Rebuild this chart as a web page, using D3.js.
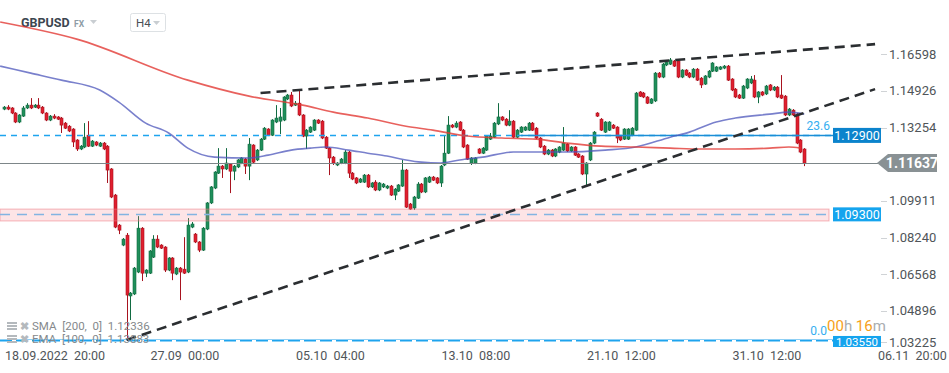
<!DOCTYPE html>
<html>
<head>
<meta charset="utf-8">
<script src="https://cdn.jsdelivr.net/npm/d3@7"></script>
<style>
  body { margin: 0; background: #fff; overflow: hidden; }
  text { font-family: Roboto, 'Open Sans', sans-serif; }
</style>
</head>
<body>
<div id="chart"></div>
<script>
// GBPUSD H4 candles, [open, high, low, close]
const candles = [
  [1.1410,1.1424,1.1405,1.1419],[1.1419,1.1428,1.1405,1.1410],[1.1415,1.1419,1.1387,1.1392],[1.1392,1.1396,1.1346,1.1351],
  [1.1351,1.1387,1.1346,1.1383],[1.1378,1.1424,1.1374,1.1415],[1.1415,1.1437,1.1410,1.1428],[1.1428,1.1460,1.1410,1.1415],
  [1.1419,1.1433,1.1415,1.1428],[1.1428,1.1460,1.1410,1.1415],[1.1419,1.1424,1.1387,1.1392],[1.1392,1.1396,1.1355,1.1360],
  [1.1360,1.1383,1.1355,1.1378],[1.1378,1.1387,1.1364,1.1369],[1.1374,1.1378,1.1360,1.1364],[1.1369,1.1374,1.1301,1.1337],
  [1.1346,1.1351,1.1319,1.1323],[1.1332,1.1337,1.1305,1.1310],[1.1319,1.1323,1.1237,1.1260],[1.1269,1.1273,1.1219,1.1228],
  [1.1228,1.1246,1.1223,1.1241],[1.1237,1.1346,1.1232,1.1282],[1.1291,1.1355,1.1237,1.1241],[1.1241,1.1269,1.1237,1.1264],
  [1.1260,1.1264,1.1241,1.1246],[1.1241,1.1260,1.1237,1.1255],[1.1255,1.1260,1.1223,1.1228],[1.1241,1.1246,1.1073,1.1132],
  [1.1137,1.1141,1.1004,1.1009],[1.1018,1.1023,1.0867,1.0872],[1.0881,1.0886,1.0840,1.0858],[1.0790,1.0822,1.0785,1.0817],
  [1.0835,1.0845,1.0357,1.0562],[1.0558,1.0576,1.0448,1.0571],[1.0567,1.0690,1.0562,1.0685],[1.0667,1.0922,1.0662,1.0867],
  [1.0867,1.0872,1.0626,1.0662],[1.0662,1.0680,1.0644,1.0676],[1.0662,1.0767,1.0658,1.0763],[1.0735,1.0835,1.0731,1.0817],
  [1.0817,1.0835,1.0776,1.0781],[1.0790,1.0794,1.0772,1.0776],[1.0781,1.0785,1.0667,1.0676],[1.0676,1.0735,1.0671,1.0731],
  [1.0731,1.0735,1.0630,1.0662],[1.0658,1.0690,1.0653,1.0685],[1.0685,1.0690,1.0539,1.0667],[1.0680,1.0826,1.0658,1.0662],
  [1.0667,1.0913,1.0662,1.0881],[1.0872,1.0895,1.0867,1.0886],[1.0840,1.0845,1.0799,1.0804],[1.0804,1.0808,1.0758,1.0767],
  [1.0767,1.0872,1.0763,1.0867],[1.0863,1.0986,1.0858,1.0982],[1.0982,1.1059,1.0977,1.1055],[1.1050,1.1127,1.1045,1.1123],
  [1.1118,1.1232,1.1114,1.1150],[1.1150,1.1155,1.1096,1.1137],[1.1137,1.1232,1.1132,1.1164],[1.1159,1.1164,1.1027,1.1127],
  [1.1127,1.1155,1.1086,1.1150],[1.1146,1.1182,1.1141,1.1178],[1.1164,1.1191,1.1159,1.1187],[1.1182,1.1187,1.1114,1.1150],
  [1.1150,1.1278,1.1086,1.1250],[1.1246,1.1250,1.1164,1.1168],[1.1178,1.1228,1.1173,1.1223],[1.1223,1.1278,1.1219,1.1273],
  [1.1273,1.1328,1.1269,1.1323],[1.1319,1.1323,1.1287,1.1291],[1.1291,1.1364,1.1287,1.1360],[1.1351,1.1428,1.1346,1.1369],
  [1.1355,1.1415,1.1296,1.1374],[1.1360,1.1469,1.1355,1.1465],[1.1456,1.1479,1.1451,1.1474],[1.1474,1.1488,1.1419,1.1424],
  [1.1428,1.1447,1.1424,1.1437],[1.1437,1.1497,1.1378,1.1383],[1.1383,1.1387,1.1282,1.1287],[1.1287,1.1319,1.1228,1.1314],
  [1.1305,1.1332,1.1301,1.1328],[1.1314,1.1364,1.1310,1.1360],[1.1360,1.1364,1.1342,1.1346],[1.1355,1.1360,1.1273,1.1278],
  [1.1282,1.1287,1.1228,1.1232],[1.1232,1.1237,1.1109,1.1187],[1.1191,1.1196,1.1155,1.1164],[1.1155,1.1168,1.1150,1.1164],
  [1.1164,1.1187,1.1159,1.1182],[1.1164,1.1223,1.1159,1.1214],[1.1214,1.1219,1.1096,1.1118],[1.1118,1.1123,1.1086,1.1091],
  [1.1096,1.1100,1.1068,1.1073],[1.1077,1.1096,1.1073,1.1091],[1.1077,1.1114,1.1073,1.1109],[1.1109,1.1114,1.1050,1.1055],
  [1.1055,1.1077,1.1050,1.1073],[1.1077,1.1086,1.1036,1.1041],[1.1041,1.1077,1.1036,1.1073],[1.1055,1.1073,1.1050,1.1068],
  [1.1050,1.1064,1.1045,1.1059],[1.1059,1.1064,1.1014,1.1018],[1.1018,1.1050,1.0995,1.1045],[1.1036,1.1068,1.1032,1.1064],
  [1.1059,1.1178,1.1055,1.1132],[1.1132,1.1137,1.0959,1.0963],[1.0977,1.0982,1.0950,1.0954],[1.0959,1.1014,1.0950,1.1009],
  [1.1004,1.1077,1.1000,1.1068],[1.1068,1.1073,1.1027,1.1032],[1.1032,1.1100,1.1027,1.1096],[1.1077,1.1105,1.1073,1.1100],
  [1.1100,1.1105,1.1082,1.1086],[1.1096,1.1100,1.1068,1.1073],[1.1073,1.1155,1.1055,1.1150],[1.1155,1.1287,1.1150,1.1209],
  [1.1209,1.1378,1.1205,1.1337],[1.1337,1.1342,1.1323,1.1328],[1.1328,1.1355,1.1323,1.1346],[1.1351,1.1355,1.1310,1.1314],
  [1.1314,1.1319,1.1232,1.1237],[1.1246,1.1250,1.1178,1.1182],[1.1164,1.1191,1.1155,1.1187],[1.1164,1.1191,1.1159,1.1187],
  [1.1228,1.1232,1.1205,1.1209],[1.1209,1.1237,1.1205,1.1232],[1.1223,1.1291,1.1219,1.1287],[1.1273,1.1301,1.1269,1.1287],
  [1.1282,1.1351,1.1278,1.1346],[1.1342,1.1437,1.1337,1.1374],[1.1374,1.1378,1.1355,1.1360],[1.1364,1.1369,1.1332,1.1337],
  [1.1337,1.1405,1.1332,1.1355],[1.1355,1.1360,1.1278,1.1282],[1.1282,1.1319,1.1278,1.1314],[1.1305,1.1332,1.1301,1.1328],
  [1.1314,1.1332,1.1310,1.1328],[1.1314,1.1351,1.1310,1.1346],[1.1346,1.1351,1.1310,1.1314],[1.1323,1.1328,1.1273,1.1278],
  [1.1278,1.1282,1.1232,1.1237],[1.1241,1.1246,1.1200,1.1205],[1.1205,1.1228,1.1200,1.1223],[1.1223,1.1228,1.1191,1.1196],
  [1.1196,1.1232,1.1191,1.1228],[1.1214,1.1241,1.1209,1.1237],[1.1223,1.1328,1.1219,1.1255],[1.1250,1.1255,1.1214,1.1219],
  [1.1219,1.1241,1.1214,1.1237],[1.1237,1.1241,1.1196,1.1200],[1.1205,1.1209,1.1187,1.1191],[1.1196,1.1200,1.1109,1.1114],
  [1.1114,1.1168,1.1059,1.1164],[1.1178,1.1260,1.1173,1.1255],[1.1255,1.1310,1.1250,1.1305],[1.1392,1.1396,1.1374,1.1378],
  [1.1364,1.1369,1.1310,1.1314],[1.1305,1.1355,1.1301,1.1351],[1.1314,1.1355,1.1310,1.1351],[1.1337,1.1342,1.1319,1.1323],
  [1.1328,1.1332,1.1255,1.1278],[1.1287,1.1291,1.1264,1.1269],[1.1273,1.1323,1.1269,1.1319],[1.1273,1.1323,1.1269,1.1319],
  [1.1291,1.1328,1.1287,1.1323],[1.1314,1.1488,1.1310,1.1483],[1.1488,1.1492,1.1465,1.1469],[1.1483,1.1488,1.1460,1.1465],
  [1.1465,1.1469,1.1433,1.1437],[1.1437,1.1460,1.1433,1.1456],[1.1447,1.1579,1.1442,1.1574],[1.1574,1.1579,1.1551,1.1556],
  [1.1556,1.1620,1.1551,1.1615],[1.1611,1.1629,1.1606,1.1624],[1.1615,1.1643,1.1611,1.1634],[1.1629,1.1634,1.1602,1.1606],
  [1.1629,1.1634,1.1551,1.1556],[1.1556,1.1592,1.1551,1.1588],[1.1588,1.1592,1.1561,1.1565],[1.1574,1.1579,1.1551,1.1556],
  [1.1556,1.1597,1.1551,1.1592],[1.1592,1.1597,1.1538,1.1542],[1.1551,1.1556,1.1506,1.1520],[1.1524,1.1565,1.1520,1.1561],
  [1.1556,1.1588,1.1551,1.1583],[1.1583,1.1624,1.1579,1.1620],[1.1583,1.1606,1.1579,1.1602],[1.1592,1.1606,1.1588,1.1602],
  [1.1597,1.1611,1.1592,1.1606],[1.1606,1.1611,1.1538,1.1542],[1.1547,1.1551,1.1492,1.1497],[1.1501,1.1506,1.1460,1.1465],
  [1.1474,1.1479,1.1456,1.1460],[1.1460,1.1520,1.1456,1.1515],[1.1506,1.1551,1.1501,1.1547],[1.1529,1.1561,1.1524,1.1547],
  [1.1542,1.1565,1.1460,1.1465],[1.1465,1.1492,1.1437,1.1488],[1.1488,1.1492,1.1469,1.1474],[1.1479,1.1520,1.1474,1.1515],
  [1.1520,1.1524,1.1492,1.1497],[1.1497,1.1515,1.1492,1.1510],[1.1510,1.1515,1.1460,1.1465],[1.1474,1.1565,1.1456,1.1460],
  [1.1469,1.1474,1.1378,1.1383],[1.1383,1.1415,1.1378,1.1410],[1.1405,1.1410,1.1378,1.1383],[1.1387,1.1392,1.1250,1.1255],
  [1.1269,1.1273,1.1209,1.1214],[1.1228,1.1232,1.1150,1.11637]
]

// moving averages read at some candle positions, [candle index, price]
const sma200 = [
  [-1, 1.1807], [19, 1.1729], [48, 1.1542], [64, 1.1469], [78, 1.1428], [86, 1.1396], [95, 1.1369],
  [105, 1.1332], [112, 1.1314], [121, 1.1287], [130, 1.1278], [139, 1.1273], [147, 1.1255], [156, 1.1241],
  [165, 1.1237], [174, 1.1232], [182, 1.1228], [191, 1.1228], [200, 1.1232], [205, 1.1237], [208, 1.1232]
]
const ema100 = [
  [-1, 1.1606], [7, 1.1574], [15, 1.1542], [25, 1.1497], [30, 1.1442], [37, 1.1346], [43, 1.1301],
  [48, 1.1232], [55, 1.1191], [64, 1.1187], [69, 1.1200], [75, 1.1223], [80, 1.1232], [84, 1.1237],
  [90, 1.1223], [95, 1.1209], [100, 1.1196], [105, 1.1178], [109, 1.1168], [114, 1.1164], [119, 1.1178],
  [125, 1.1191], [133, 1.1214], [140, 1.1214], [147, 1.1214], [157, 1.1223], [165, 1.1237], [174, 1.1282],
  [179, 1.1305], [186, 1.1351], [191, 1.1369], [200, 1.1387], [205, 1.1396], [209, 1.1387]
]

// drawn trend lines, [candle index, price]
const trendUpper = [[67, 1.1483], [227.5, 1.1706]]
const trendLower = [[32, 1.0357], [227.5, 1.1501]]

const yTicks = [1.16598, 1.14926, 1.13254, 1.09911, 1.08240, 1.06568, 1.04896, 1.03225]
const xTickIdx = [0, 38, 76, 114, 152, 190, 228]
const xTickLabels = ['18.09.2022  20:00', '27.09  00:00', '05.10  04:00', '13.10  08:00', '21.10  12:00', '31.10  12:00', '06.11  20:00']

const lastPrice = 1.11637
const alertLevels = [1.12900, 1.09300, 1.03550]
const zoneBand = [1.0954, 1.0900]
const fibLevels = [['23.6', 1.12900], ['0.0', 1.03550]]

const width = 949
const height = 373
const plotRight = 833

const svg = d3
  .select('#chart')
  .append('svg')
  .attr('width', width)
  .attr('height', height)

const x = d3.scaleLinear().domain([0, 228]).range([4, 877])
const y = d3.scaleLinear().domain([1.03225, 1.16598]).range([347.6, 54.3])

const green = '#1f8f5b'
const greenDark = '#126b42'
const red = '#e01f2e'
const redDark = '#a8131f'

// header
const head = svg.append('g')
head.append('text').attr('x', 21).attr('y', 27)
  .attr('font-size', 12.5).attr('font-weight', 700).attr('fill', '#3c4650').text('GBPUSD')
head.append('text').attr('x', 74).attr('y', 27)
  .attr('font-size', 8.5).attr('font-weight', 700).attr('fill', '#8e9ca6').text('FX')
head.append('path').attr('d', 'M90,20 L97,20 L93.5,24 Z').attr('fill', '#c9ced2')
head.append('rect').attr('x', 130.5).attr('y', 13.5).attr('width', 35).attr('height', 18).attr('rx', 2)
  .attr('fill', '#fff').attr('stroke', '#dde1e4')
head.append('text').attr('x', 136).attr('y', 27)
  .attr('font-size', 11.5).attr('fill', '#4a4f55').text('H4')
head.append('path').attr('d', 'M153,21 L160,21 L156.5,25 Z').attr('fill', '#c9ced2')

// candles
const bars = svg.append('g').selectAll('g')
  .data(candles)
  .enter()
  .append('g')

bars.append('line')
  .attr('x1', (d, i) => Math.round(x(i)) + 0.5)
  .attr('x2', (d, i) => Math.round(x(i)) + 0.5)
  .attr('y1', d => y(d[1]))
  .attr('y2', d => y(d[2]))
  .attr('stroke', d => d[3] >= d[0] ? greenDark : redDark)
  .attr('stroke-width', 1)

bars.append('rect')
  .attr('x', (d, i) => Math.round(x(i)) - 1)
  .attr('y', d => y(Math.max(d[0], d[3])))
  .attr('width', 3)
  .attr('height', d => Math.max(1, Math.abs(y(d[0]) - y(d[3]))))
  .attr('fill', d => d[3] >= d[0] ? green : red)
  .attr('stroke', d => d[3] >= d[0] ? greenDark : redDark)
  .attr('stroke-width', 0.6)

// support zone
svg.append('rect')
  .attr('x', 0).attr('width', 829)
  .attr('y', y(zoneBand[0])).attr('height', y(zoneBand[1]) - y(zoneBand[0]))
  .attr('fill', 'rgba(244,130,140,0.22)')
  .attr('stroke', 'rgba(236,120,130,0.55)')

// alert levels
const levelColor = ['#1ea4ee', '#82b4e2', '#1ea4ee']
const levelDash = ['6,5', '10,7', '12,4']
alertLevels.forEach(function (v, i) {
  svg.append('line')
    .attr('x1', 0).attr('x2', plotRight)
    .attr('y1', Math.round(y(v)) + 0.5).attr('y2', Math.round(y(v)) + 0.5)
    .attr('stroke', levelColor[i])
    .attr('stroke-width', i === 2 ? 2 : 1.3)
    .attr('stroke-dasharray', levelDash[i])
})

// fibonacci levels (solid part)
svg.append('line')
  .attr('x1', x(135)).attr('x2', plotRight)
  .attr('y1', Math.round(y(fibLevels[0][1])) + 0.5).attr('y2', Math.round(y(fibLevels[0][1])) + 0.5)
  .attr('stroke', '#1b8ed6').attr('stroke-width', 1.3)
svg.append('line')
  .attr('x1', 0).attr('x2', plotRight)
  .attr('y1', Math.round(y(fibLevels[1][1])) - 0.5).attr('y2', Math.round(y(fibLevels[1][1])) - 0.5)
  .attr('stroke', '#8fd0f5').attr('stroke-width', 1)

svg.selectAll('.fib')
  .data(fibLevels)
  .enter()
  .append('text')
  .attr('class', 'fib')
  .attr('x', (d, i) => i === 0 ? 830 : 827)
  .attr('y', d => y(d[1]) - 5)
  .attr('text-anchor', 'end')
  .attr('font-size', 12)
  .attr('fill', '#34aef0')
  .text(d => d[0])

// moving averages
const maLine = d3.line()
  .x(d => x(d[0]))
  .y(d => y(d[1]))
  .curve(d3.curveMonotoneX)

svg.append('path')
  .datum(ema100)
  .attr('d', maLine)
  .attr('fill', 'none')
  .attr('stroke', '#4c55bb')
  .attr('stroke-opacity', 0.75)
  .attr('stroke-width', 1.6)

svg.append('path')
  .datum(sma200)
  .attr('d', maLine)
  .attr('fill', 'none')
  .attr('stroke', '#e23a35')
  .attr('stroke-opacity', 0.8)
  .attr('stroke-width', 1.6)

// current price line
svg.append('line')
  .attr('x1', 0).attr('x2', 878)
  .attr('y1', Math.round(y(lastPrice)) + 0.5).attr('y2', Math.round(y(lastPrice)) + 0.5)
  .attr('stroke', '#7d8689').attr('stroke-width', 1.2)

// trend lines
const trendLine = d3.line().x(d => x(d[0])).y(d => y(d[1]))
;[trendUpper, trendLower].forEach(function (t) {
  svg.append('path')
    .datum(t)
    .attr('d', trendLine)
    .attr('fill', 'none')
    .attr('stroke', '#2b2e31')
    .attr('stroke-width', 2.6)
    .attr('stroke-dasharray', '10,6')
})

// right axis
const yAxis = svg.append('g')
yAxis.selectAll('line')
  .data(yTicks)
  .enter()
  .append('line')
  .attr('x1', 881).attr('x2', 887)
  .attr('y1', d => Math.min(Math.round(y(d)), 342) + 0.5)
  .attr('y2', d => Math.min(Math.round(y(d)), 342) + 0.5)
  .attr('stroke', '#d0d3d6')
yAxis.selectAll('text')
  .data(yTicks)
  .enter()
  .append('text')
  .attr('x', 889)
  .attr('y', d => Math.min(y(d), 342) + 4.5)
  .attr('font-size', 13)
  .attr('fill', '#505559')
  .text(d => d.toFixed(5))

// level tags
const tagColor = ['#0b83cc', '#15a4ee', '#15a4ee']
const tagBox = [[-7.5, 15], [-7, 14], [-4.5, 11]]
alertLevels.forEach(function (v, i) {
  const cy = y(v)
  svg.append('rect')
    .attr('x', 833).attr('y', cy + tagBox[i][0]).attr('width', 48).attr('height', tagBox[i][1])
    .attr('fill', tagColor[i])
  svg.append('text')
    .attr('x', 857).attr('y', cy + tagBox[i][0] + tagBox[i][1] / 2 + 4.2)
    .attr('text-anchor', 'middle')
    .attr('font-size', i === 2 ? 11.5 : 12.5)
    .attr('fill', '#fff')
    .text(v.toFixed(5))
})

// last price tag
const ly = y(lastPrice)
svg.append('path')
  .attr('d', `M877,${ly} L888,${ly - 9} L937,${ly - 9} L937,${ly + 9} L888,${ly + 9} Z`)
  .attr('fill', '#899194')
svg.append('text')
  .attr('x', 912).attr('y', ly + 5)
  .attr('text-anchor', 'middle')
  .attr('font-size', 14)
  .attr('font-weight', 700)
  .attr('fill', '#fff')
  .text(lastPrice.toFixed(5))

// countdown
const cd = svg.append('text').attr('x', 827).attr('y', 331).attr('font-size', 15)
cd.append('tspan').attr('fill', '#f6a019').text('00')
cd.append('tspan').attr('fill', '#a9adb0').text('h ')
cd.append('tspan').attr('fill', '#f6a019').text('16')
cd.append('tspan').attr('fill', '#a9adb0').text('m')

// time axis
svg.append('g').selectAll('text')
  .data(xTickIdx)
  .enter()
  .append('text')
  .attr('x', d => x(d) + 1)
  .attr('y', 360)
  .attr('font-size', 12.5)
  .attr('fill', '#505559')
  .style('white-space', 'pre')
  .text((d, i) => xTickLabels[i])

// legend
const legend = [['SMA  [200,  0]  ', 1.12336], ['EMA  [100,  0]  ', 1.13883]]
const lg = svg.append('g').selectAll('g')
  .data(legend)
  .enter()
  .append('g')
  .attr('transform', (d, i) => 'translate(0,' + (330 + i * 13) + ')')
lg.append('rect').attr('x', 7).attr('y', -8).attr('width', 10).attr('height', 2).attr('fill', '#b4b9bd')
lg.append('rect').attr('x', 7).attr('y', -5).attr('width', 10).attr('height', 2).attr('fill', '#b4b9bd')
lg.append('rect').attr('x', 7).attr('y', -2).attr('width', 10).attr('height', 2).attr('fill', '#b4b9bd')
lg.append('text').attr('x', 20).attr('y', 0).attr('font-size', 11).attr('font-weight', 700)
  .attr('fill', '#b4b9bd').text('\u2716')
lg.append('text').attr('x', 32).attr('y', 0)
  .attr('font-size', 11.5)
  .attr('fill', '#85898c')
  .style('white-space', 'pre')
  .text(d => d[0] + d[1].toFixed(5))
</script>
</body>
</html>
